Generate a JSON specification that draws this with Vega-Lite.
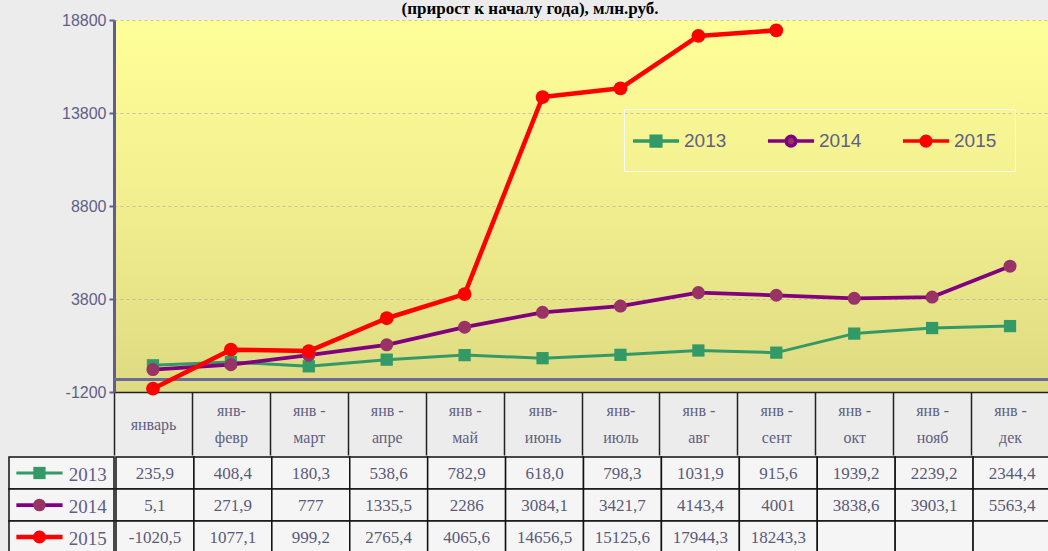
{
  "$schema": "https://vega.github.io/schema/vega-lite/v6.json",
  "background": "#ECECEC",
  "padding": {"left": 8, "top": 0, "right": 0, "bottom": 0},
  "title": {"text": "(прирост к началу года), млн.руб.", "font": "Liberation Serif", "fontSize": 17, "fontWeight": "bold", "color": "#000000", "offset": -6, "anchor": "middle"},
  "spacing": 0,
  "datasets": {
    "d": [
      {"year": "2013", "period": "январь", "value": 235.9, "label": "235,9"},
      {"year": "2013", "period": "янв-|февр", "value": 408.4, "label": "408,4"},
      {"year": "2013", "period": "янв -|март", "value": 180.3, "label": "180,3"},
      {"year": "2013", "period": "янв  -|апре", "value": 538.6, "label": "538,6"},
      {"year": "2013", "period": "янв -|май", "value": 782.9, "label": "782,9"},
      {"year": "2013", "period": "янв-|июнь", "value": 618.0, "label": "618,0"},
      {"year": "2013", "period": "янв-|июль", "value": 798.3, "label": "798,3"},
      {"year": "2013", "period": "янв  -|авг", "value": 1031.9, "label": "1031,9"},
      {"year": "2013", "period": "янв -|сент", "value": 915.6, "label": "915,6"},
      {"year": "2013", "period": "янв -|окт", "value": 1939.2, "label": "1939,2"},
      {"year": "2013", "period": "янв -|нояб", "value": 2239.2, "label": "2239,2"},
      {"year": "2013", "period": "янв -|дек", "value": 2344.4, "label": "2344,4"},
      {"year": "2014", "period": "январь", "value": 5.1, "label": "5,1"},
      {"year": "2014", "period": "янв-|февр", "value": 271.9, "label": "271,9"},
      {"year": "2014", "period": "янв -|март", "value": 777, "label": "777"},
      {"year": "2014", "period": "янв  -|апре", "value": 1335.5, "label": "1335,5"},
      {"year": "2014", "period": "янв -|май", "value": 2286, "label": "2286"},
      {"year": "2014", "period": "янв-|июнь", "value": 3084.1, "label": "3084,1"},
      {"year": "2014", "period": "янв-|июль", "value": 3421.7, "label": "3421,7"},
      {"year": "2014", "period": "янв  -|авг", "value": 4143.4, "label": "4143,4"},
      {"year": "2014", "period": "янв -|сент", "value": 4001, "label": "4001"},
      {"year": "2014", "period": "янв -|окт", "value": 3838.6, "label": "3838,6"},
      {"year": "2014", "period": "янв -|нояб", "value": 3903.1, "label": "3903,1"},
      {"year": "2014", "period": "янв -|дек", "value": 5563.4, "label": "5563,4"},
      {"year": "2015", "period": "январь", "value": -1020.5, "label": "-1020,5"},
      {"year": "2015", "period": "янв-|февр", "value": 1077.1, "label": "1077,1"},
      {"year": "2015", "period": "янв -|март", "value": 999.2, "label": "999,2"},
      {"year": "2015", "period": "янв  -|апре", "value": 2765.4, "label": "2765,4"},
      {"year": "2015", "period": "янв -|май", "value": 4065.6, "label": "4065,6"},
      {"year": "2015", "period": "янв-|июнь", "value": 14656.5, "label": "14656,5"},
      {"year": "2015", "period": "янв-|июль", "value": 15125.6, "label": "15125,6"},
      {"year": "2015", "period": "янв  -|авг", "value": 17944.3, "label": "17944,3"},
      {"year": "2015", "period": "янв -|сент", "value": 18243.3, "label": "18243,3"},
      {"year": "2015", "period": "янв -|окт", "value": null, "label": ""},
      {"year": "2015", "period": "янв -|нояб", "value": null, "label": ""},
      {"year": "2015", "period": "янв -|дек", "value": null, "label": ""}
    ],
    "years": [{"year": "2013"}, {"year": "2014"}, {"year": "2015"}]
  },
  "resolve": {
    "scale": {"color": "independent", "fill": "independent", "stroke": "independent", "shape": "independent", "size": "independent", "strokeWidth": "independent"},
    "legend": {"color": "independent", "fill": "independent", "stroke": "independent", "shape": "independent", "size": "independent", "strokeWidth": "independent"}
  },
  "vconcat": [
    {
      "bounds": "flush",
      "spacing": 0,
      "resolve": {
        "scale": {"color": "independent", "fill": "independent", "stroke": "independent", "shape": "independent", "size": "independent", "strokeWidth": "independent"},
        "legend": {"color": "independent", "fill": "independent", "stroke": "independent", "shape": "independent", "size": "independent", "strokeWidth": "independent"}
      },
      "hconcat": [
        {
          "width": 105,
          "height": 372,
          "view": {"stroke": null},
          "data": {"values": []},
          "mark": "point"
        },
        {
          "width": 935,
          "height": 372,
          "view": {
            "stroke": null,
            "fill": {"gradient": "linear", "x1": 0, "y1": 0, "x2": 0, "y2": 1, "stops": [{"offset": 0, "color": "#FFFF99"}, {"offset": 0.5, "color": "#F1EE8F"}, {"offset": 1, "color": "#DEDA82"}]}
          },
          "data": {"name": "d"},
          "resolve": {
            "scale": {"fill": "independent", "shape": "independent", "stroke": "independent"},
            "legend": {"fill": "independent", "shape": "independent", "stroke": "independent"}
          },
          "encoding": {
            "x": {
              "field": "period", "type": "nominal", "sort": null, "title": null,
              "scale": {"type": "band", "paddingInner": 0, "paddingOuter": 0},
              "axis": {
                "labelExpr": "datum.value ? split(datum.value, '|') : ''",
                "labelFont": "Liberation Serif", "labelFontSize": 16, "labelColor": "#5F5F80",
                "labelLineHeight": 27, "labelBaseline": "middle",
                "labelPadding": {"condition": {"test": "datum.value === 'январь'", "value": -31}, "value": -45},
                "labelAngle": 0, "labelOverlap": false, "labelLimit": 0,
                "tickBand": "extent", "tickSize": 63, "tickColor": "#222222", "tickWidth": 1.5,
                "domainColor": "#222222", "domainWidth": 1.5,
                "minExtent": 63, "maxExtent": 63
              }
            },
            "y": {
              "field": "value", "type": "quantitative", "title": null,
              "scale": {"domain": [-1200, 18800], "nice": false, "zero": false},
              "axis": {
                "values": [-1200, 3800, 8800, 13800, 18800], "format": "d",
                "labelExpr": "replace(datum.label, '−', '-')",
                "grid": true, "gridDash": [3, 3], "gridColor": "#B5B39A", "gridOpacity": 0.7,
                "domainColor": "#5F5F8F", "domainWidth": 3,
                "tickColor": "#5F5F8F", "tickSize": 5, "tickWidth": 2,
                "labelFont": "Liberation Sans", "labelFontSize": 16, "labelColor": "#5F5F86", "labelPadding": 3
              }
            }
          },
          "layer": [
            {
              "mark": {"type": "rule", "color": "#6B6B9B", "strokeWidth": 3},
              "encoding": {"y": {"datum": -530}, "x": null}
            },
            {
              "mark": {"type": "line", "strokeJoin": "round", "strokeCap": "round"},
              "encoding": {
                "color": {
                  "field": "year", "type": "nominal",
                  "scale": {"domain": ["2013", "2014", "2015"], "range": ["#339966", "#800080", "#FF0000"]},
                  "legend": null
                },
                "strokeWidth": {
                  "field": "year", "type": "ordinal",
                  "scale": {"domain": ["2013", "2014", "2015"], "range": [3, 4.5, 4.5]},
                  "legend": null
                }
              }
            },
            {
              "mark": {"type": "point", "filled": true, "opacity": 1},
              "encoding": {
                "fill": {"field": "year", "type": "nominal", "scale": {"domain": ["2013", "2014", "2015"], "range": ["#339966", "#993366", "#FF0000"]}, "legend": null},
                "shape": {"field": "year", "type": "nominal", "scale": {"domain": ["2013", "2014", "2015"], "range": ["square", "circle", "circle"]}, "legend": null},
                "size": {"field": "year", "type": "ordinal", "scale": {"domain": ["2013", "2014", "2015"], "range": [150, 190, 210]}, "legend": null}
              }
            },
            {
              "transform": [{"filter": "false"}],
              "mark": {"type": "point", "filled": true, "opacity": 1, "strokeWidth": 3.5, "size": 576},
              "encoding": {
                "shape": {
                  "field": "year", "type": "nominal",
                  "scale": {"domain": ["2013", "2014", "2015"], "range": [
                    "M-1.92,0H-0.4M0.4,0H1.92M-0.4,-0.4H0.4V0.4H-0.4Z",
                    "M-1.92,0H-0.4M0.4,0H1.92M-0.4,0A0.4,0.4,0,1,0,0.4,0A0.4,0.4,0,1,0,-0.4,0Z",
                    "M-1.92,0H-0.4M0.4,0H1.92M-0.4,0A0.4,0.4,0,1,0,0.4,0A0.4,0.4,0,1,0,-0.4,0Z"
                  ]},
                  "legend": {
                    "title": null, "orient": "none", "legendX": 510, "legendY": 89, "direction": "horizontal",
                    "padding": 18, "strokeColor": "#FAFAFA",
                    "labelFont": "Liberation Sans", "labelFontSize": 19, "labelColor": "#5F5F86", "labelOffset": 14,
                    "symbolSize": 576, "symbolStrokeWidth": 3.5, "columnPadding": 33, "symbolOpacity": 1
                  }
                },
                "fill": {
                  "field": "year", "type": "nominal",
                  "scale": {"domain": ["2013", "2014", "2015"], "range": ["#339966", "#993366", "#FF0000"]},
                  "legend": {
                    "title": null, "orient": "none", "legendX": 510, "legendY": 89, "direction": "horizontal",
                    "padding": 18, "strokeColor": "#FAFAFA",
                    "labelFont": "Liberation Sans", "labelFontSize": 19, "labelColor": "#5F5F86", "labelOffset": 14,
                    "symbolSize": 576, "symbolStrokeWidth": 3.5, "columnPadding": 33, "symbolOpacity": 1
                  }
                },
                "stroke": {
                  "field": "year", "type": "nominal",
                  "scale": {"domain": ["2013", "2014", "2015"], "range": ["#339966", "#800080", "#FF0000"]},
                  "legend": {
                    "title": null, "orient": "none", "legendX": 510, "legendY": 89, "direction": "horizontal",
                    "padding": 18, "strokeColor": "#FAFAFA",
                    "labelFont": "Liberation Sans", "labelFontSize": 19, "labelColor": "#5F5F86", "labelOffset": 14,
                    "symbolSize": 576, "symbolStrokeWidth": 3.5, "columnPadding": 33, "symbolOpacity": 1
                  }
                }
              }
            }
          ]
        }
      ]
    },
    {
      "spacing": 0,
      "hconcat": [
        {
          "width": 105,
          "height": 96,
          "view": {"stroke": null},
          "data": {"name": "years"},
          "encoding": {
            "y": {"field": "year", "type": "nominal", "scale": {"type": "band", "paddingInner": 0, "paddingOuter": 0}, "axis": null}
          },
          "layer": [
            {
              "mark": {"type": "rect", "fill": "#F5F5F5", "stroke": "#111111", "strokeWidth": 1.5},
              "encoding": {
                "x": {"datum": 0, "type": "quantitative", "scale": {"domain": [0, 1], "nice": false, "zero": false}, "axis": null},
                "x2": {"datum": 1}
              }
            },
            {
              "mark": {"type": "rule"},
              "encoding": {
                "x": {"datum": 0.07, "type": "quantitative"},
                "x2": {"datum": 0.51},
                "color": {"field": "year", "type": "nominal", "scale": {"domain": ["2013", "2014", "2015"], "range": ["#339966", "#800080", "#FF0000"]}, "legend": null},
                "strokeWidth": {"field": "year", "type": "ordinal", "scale": {"domain": ["2013", "2014", "2015"], "range": [3, 4.5, 4.5]}, "legend": null}
              }
            },
            {
              "mark": {"type": "point", "filled": true, "opacity": 1},
              "encoding": {
                "x": {"datum": 0.29, "type": "quantitative"},
                "fill": {"field": "year", "type": "nominal", "scale": {"domain": ["2013", "2014", "2015"], "range": ["#339966", "#993366", "#FF0000"]}, "legend": null},
                "shape": {"field": "year", "type": "nominal", "scale": {"domain": ["2013", "2014", "2015"], "range": ["square", "circle", "circle"]}, "legend": null},
                "size": {"field": "year", "type": "ordinal", "scale": {"domain": ["2013", "2014", "2015"], "range": [150, 170, 170]}, "legend": null}
              }
            },
            {
              "mark": {"type": "text", "align": "left", "baseline": "middle", "font": "Liberation Serif", "fontSize": 19, "color": "#5F5F86", "dy": 2},
              "encoding": {
                "x": {"datum": 0.57, "type": "quantitative"},
                "text": {"field": "year"}
              }
            }
          ]
        },
        {
          "width": 935,
          "height": 96,
          "view": {"stroke": null},
          "data": {"name": "d"},
          "encoding": {
            "x": {"field": "period", "type": "nominal", "sort": null, "scale": {"type": "band", "paddingInner": 0, "paddingOuter": 0}, "axis": null},
            "y": {"field": "year", "type": "nominal", "scale": {"type": "band", "paddingInner": 0, "paddingOuter": 0}, "axis": null}
          },
          "layer": [
            {"mark": {"type": "rect", "fill": "#F5F5F5", "stroke": "#111111", "strokeWidth": 1.5}},
            {
              "mark": {"type": "text", "font": "Liberation Serif", "fontSize": 17, "color": "#5A5A78", "baseline": "middle", "dy": 1},
              "encoding": {"text": {"field": "label"}}
            }
          ]
        }
      ]
    }
  ]
}
